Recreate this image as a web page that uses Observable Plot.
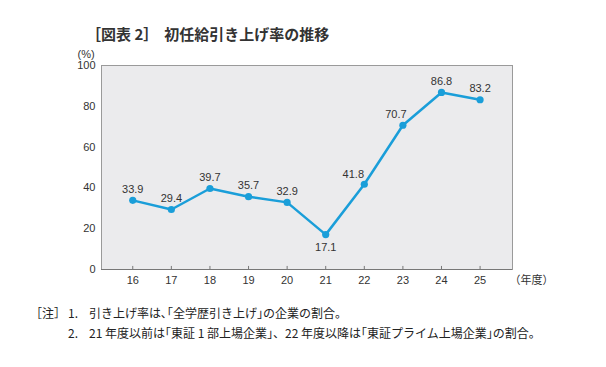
<!DOCTYPE html>
<html><head><meta charset="utf-8">
<script src="https://cdn.jsdelivr.net/npm/d3@7"></script>
<script src="https://cdn.jsdelivr.net/npm/@observablehq/plot@0.6"></script>
<style>
body{margin:0;background:#fff;font-family:"Noto Sans CJK JP",sans-serif;color:#222;}
#wrap{position:relative;width:606px;height:367px;overflow:hidden;}
#title{position:absolute;top:24px;left:86px;font-size:15px;font-weight:bold;white-space:nowrap;line-height:20px;color:#333}
#title .t2{margin-left:6px}
#chart{position:absolute;top:40px;left:0}
.note{position:absolute;font-size:12px;white-space:nowrap;line-height:16px;color:#222}
</style></head>
<body><div id="wrap">
<div id="title">［図表 2］<span class="t2">初任給引き上げ率の推移</span></div>
<div id="chart"></div>
<div class="note" style="top:305px;left:30px">［注］</div>
<div class="note" style="top:305px;left:68px">1.</div>
<div class="note" style="top:305px;left:89px">引き上げ率は､｢全学歴引き上げ｣の企業の割合。</div>
<div class="note" style="top:325px;left:68px">2.</div>
<div class="note" style="top:325px;left:89px">21 年度以前は｢東証 1 部上場企業｣、22 年度以降は｢東証プライム上場企業｣の割合。</div>
</div>
<script>
const years = [16,17,18,19,20,21,22,23,24,25];
const rates = [33.9,29.4,39.7,35.7,32.9,17.1,41.8,70.7,86.8,83.2];
const yTicks = [0,20,40,60,80,100];
const data = years.map((y,i)=>({year:y, rate:rates[i], label:rates[i].toFixed(1)}));
const below = data.filter(d=>d.year===21);
const left22 = data.filter(d=>d.year===22);
const left23 = data.filter(d=>d.year===23);
const above = data.filter(d=>d.year!==21&&d.year!==22&&d.year!==23);
const font = '"Liberation Sans Narrow","Liberation Sans",sans-serif';
const blue = "#1a9ed9";
const plot = Plot.plot({
  width:606, height:255,
  marginLeft:101, marginRight:94, marginTop:25, marginBottom:26,
  style:{fontFamily:font, fontSize:"11px", color:"#333", background:"transparent"},
  x:{type:"linear", domain:[15.19,25.84]},
  y:{domain:[0,100]},
  marks:[
    Plot.frame({fill:"#ebebed", stroke:"#9a9a9a"}),
    Plot.ruleX(years, {x:d=>d, y1:0, y2:1.5, stroke:"#777"}),
    Plot.ruleY([0], {stroke:"#777"}),
    Plot.axisX(years, {tickSize:0, tickPadding:7, tickFormat:d=>String(d), label:null, fontSize:11, fill:"#333"}),
    Plot.axisY(yTicks, {tickSize:0, tickPadding:6, label:null, fontSize:11, fill:"#333"}),
    Plot.text(["(%)"], {frameAnchor:"top-left", dx:-24, dy:-15, fontSize:11, fill:"#333", textAnchor:"start"}),
    Plot.text(["（年度）"], {x:25.84, y:0, dx:-3, dy:11, textAnchor:"start", fontSize:11, fill:"#333", fontFamily:"Noto Sans CJK JP"}),
    Plot.line(data, {x:"year", y:"rate", stroke:blue, strokeWidth:2.5}),
    Plot.dot(data, {x:"year", y:"rate", fill:blue, r:3.6}),
    Plot.text(above, {x:"year", y:"rate", text:"label", dy:-11, fontSize:11, fill:"#333"}),
    Plot.text(left22, {x:"year", y:"rate", text:"label", dx:-11, dy:-10, fontSize:11, fill:"#333"}),
    Plot.text(left23, {x:"year", y:"rate", text:"label", dx:-7, dy:-11, fontSize:11, fill:"#333"}),
    Plot.text(below, {x:"year", y:"rate", text:"label", dy:13, fontSize:11, fill:"#333"})
  ]
});
document.getElementById("chart").appendChild(plot);
</script>
</body></html>
